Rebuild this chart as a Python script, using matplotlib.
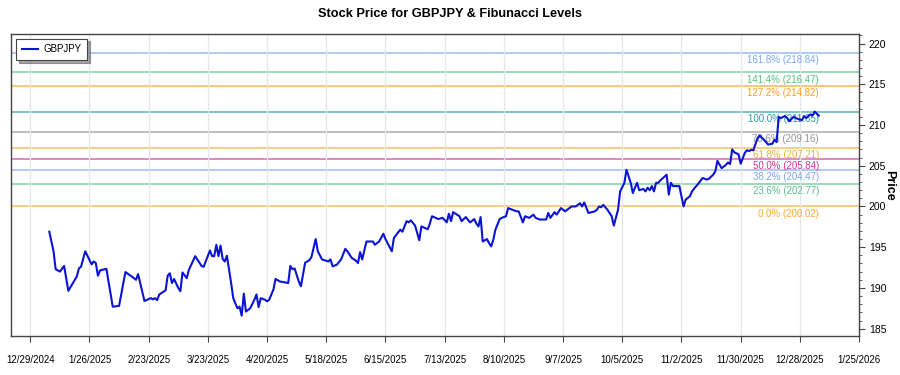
import pandas as pd
import matplotlib.pyplot as plt
import matplotlib.ticker as mticker
import matplotlib.dates as mdates

plt.rcParams['font.family'] = ['Liberation Sans', 'DejaVu Sans']

# price data
dates = [
    '2025-01-07', '2025-01-09', '2025-01-10', '2025-01-12', '2025-01-14', '2025-01-16',
    '2025-01-20', '2025-01-21', '2025-01-22', '2025-01-24', '2025-01-27', '2025-01-28',
    '2025-01-29', '2025-01-30', '2025-01-31', '2025-02-03', '2025-02-05', '2025-02-06',
    '2025-02-09', '2025-02-12', '2025-02-15', '2025-02-17', '2025-02-18', '2025-02-21',
    '2025-02-24', '2025-02-25', '2025-02-26', '2025-02-27', '2025-02-28', '2025-03-03',
    '2025-03-04', '2025-03-05', '2025-03-06', '2025-03-07', '2025-03-09', '2025-03-10',
    '2025-03-11', '2025-03-13', '2025-03-14', '2025-03-17', '2025-03-20', '2025-03-21',
    '2025-03-24', '2025-03-25', '2025-03-26', '2025-03-27', '2025-03-28', '2025-03-29',
    '2025-03-30', '2025-03-31', '2025-04-01', '2025-04-03', '2025-04-04', '2025-04-05',
    '2025-04-06', '2025-04-07', '2025-04-08', '2025-04-09', '2025-04-10', '2025-04-12',
    '2025-04-14', '2025-04-15', '2025-04-16', '2025-04-17', '2025-04-19', '2025-04-20',
    '2025-04-21', '2025-04-23', '2025-04-24', '2025-04-26', '2025-04-30', '2025-05-01',
    '2025-05-02', '2025-05-03', '2025-05-05', '2025-05-06', '2025-05-08', '2025-05-10',
    '2025-05-11', '2025-05-13', '2025-05-14', '2025-05-16', '2025-05-19', '2025-05-20',
    '2025-05-21', '2025-05-23', '2025-05-25', '2025-05-27', '2025-05-28', '2025-05-30',
    '2025-06-01', '2025-06-02', '2025-06-03', '2025-06-04', '2025-06-06', '2025-06-09',
    '2025-06-10', '2025-06-12', '2025-06-14', '2025-06-15', '2025-06-18', '2025-06-19',
    '2025-06-22', '2025-06-23', '2025-06-25', '2025-06-26', '2025-06-27', '2025-06-29',
    '2025-07-01', '2025-07-02', '2025-07-05', '2025-07-06', '2025-07-07', '2025-07-10',
    '2025-07-12', '2025-07-14', '2025-07-15', '2025-07-16', '2025-07-17', '2025-07-20',
    '2025-07-21', '2025-07-23', '2025-07-25', '2025-07-27', '2025-07-28', '2025-07-29',
    '2025-07-30', '2025-07-31', '2025-08-02', '2025-08-03', '2025-08-04', '2025-08-05',
    '2025-08-06', '2025-08-08', '2025-08-09', '2025-08-11', '2025-08-12', '2025-08-14',
    '2025-08-16', '2025-08-17', '2025-08-19', '2025-08-20', '2025-08-22', '2025-08-24',
    '2025-08-25', '2025-08-27', '2025-08-30', '2025-08-31', '2025-09-01', '2025-09-03',
    '2025-09-04', '2025-09-06', '2025-09-08', '2025-09-11', '2025-09-13', '2025-09-15',
    '2025-09-16', '2025-09-17', '2025-09-19', '2025-09-22', '2025-09-23', '2025-09-24',
    '2025-09-25', '2025-09-26', '2025-09-28', '2025-09-30', '2025-10-01', '2025-10-03',
    '2025-10-04', '2025-10-06', '2025-10-07', '2025-10-09', '2025-10-10', '2025-10-11',
    '2025-10-12', '2025-10-13', '2025-10-15', '2025-10-16', '2025-10-17', '2025-10-18',
    '2025-10-19', '2025-10-20', '2025-10-21', '2025-10-22', '2025-10-23', '2025-10-26',
    '2025-10-27', '2025-10-28', '2025-10-29', '2025-10-30', '2025-11-01', '2025-11-03',
    '2025-11-04', '2025-11-06', '2025-11-07', '2025-11-08', '2025-11-10', '2025-11-12',
    '2025-11-14', '2025-11-15', '2025-11-17', '2025-11-18', '2025-11-19', '2025-11-21',
    '2025-11-23', '2025-11-24', '2025-11-25', '2025-11-26', '2025-11-27', '2025-11-29',
    '2025-11-30', '2025-12-02', '2025-12-03', '2025-12-04', '2025-12-05', '2025-12-06',
    '2025-12-08', '2025-12-09', '2025-12-11', '2025-12-13', '2025-12-15', '2025-12-16',
    '2025-12-17', '2025-12-18', '2025-12-19', '2025-12-21', '2025-12-22', '2025-12-23',
    '2025-12-25', '2025-12-27', '2025-12-29', '2025-12-30', '2025-12-31', '2026-01-02',
    '2026-01-03', '2026-01-04', '2026-01-06',
]
prices = [
    196.9, 194.5, 192.3, 192.0, 192.7, 189.65,
    191.4, 192.4, 192.6, 194.5, 192.9, 193.25,
    193.05, 191.5, 192.15, 192.35, 189.2, 187.7,
    187.8, 191.95, 191.4, 191.0, 191.7, 188.4,
    188.75, 188.6, 188.75, 188.5, 189.2, 189.7,
    191.5, 191.8, 190.6, 191.1, 190.0, 189.6,
    191.9, 191.2, 192.2, 193.9, 192.7, 192.6,
    194.6, 193.9, 193.9, 195.3, 193.9, 195.2,
    193.55, 193.25, 193.95, 190.6, 188.75, 188.1,
    187.5, 187.7, 186.6, 189.3, 187.1, 187.5,
    188.55, 189.2, 187.65, 188.75, 188.55, 188.35,
    188.55, 189.8, 191.1, 190.8, 190.6, 192.7,
    192.3, 192.4, 190.8, 190.2, 193.1, 193.4,
    193.8, 196.0, 194.5, 193.5, 193.25, 193.5,
    192.65, 192.85, 193.5, 194.8, 194.5, 193.7,
    193.35, 193.05, 194.4, 193.5, 195.7, 195.7,
    195.3, 195.7, 196.65, 196.0, 194.5, 196.15,
    197.15, 196.9, 198.2, 198.05, 198.3, 197.65,
    195.85, 197.55, 197.2, 197.9, 198.8, 198.45,
    198.6, 198.05, 199.1, 198.2, 199.3, 198.8,
    198.2, 198.7, 198.05, 198.45, 197.9, 197.55,
    198.7, 195.7, 196.0, 195.5, 195.1, 195.9,
    197.15, 198.45, 198.6, 198.8, 199.8, 199.6,
    199.4, 199.4, 198.05, 198.8, 198.6, 199.0,
    198.6, 198.4, 198.4, 199.2, 198.6, 199.3,
    199.0, 199.8, 199.4, 200.0, 200.0, 200.4,
    200.0, 200.5, 199.2, 199.4, 199.6, 200.0,
    199.9, 200.2, 199.6, 198.8, 197.65, 199.6,
    201.85, 202.9, 204.5, 202.9, 201.65, 202.3,
    202.9, 202.0, 202.15, 201.85, 202.3, 202.0,
    202.5, 201.85, 202.9, 202.9, 203.2, 203.9,
    201.45, 202.9, 202.5, 202.5, 202.5, 200.0,
    200.85, 201.25, 201.85, 202.2, 202.8, 203.5,
    203.3, 203.4, 203.9, 204.3, 205.6, 204.7,
    205.1, 205.4, 205.2, 207.0, 206.65, 206.4,
    205.25, 206.6, 206.9, 206.8, 206.95, 206.9,
    208.4, 208.7, 208.2, 207.6, 207.7, 208.2,
    207.9, 211.0, 210.85, 211.1, 210.85, 210.45,
    211.0, 210.75, 210.6, 211.1, 210.85, 211.3,
    211.15, 211.65, 211.15,
]

# fibonacci levels as labelled on the chart
fib_ratios = ['0.0%', '23.6%', '38.2%', '50.0%', '61.8%', '78.6%', '100.0%', '127.2%', '141.4%', '161.8%']
fib_values = [200.02, 202.77, 204.47, 205.84, 207.21, 209.16, 211.65, 214.82, 216.47, 218.84]
fib_colors = ['#f39c12', '#3cb371', '#6495ed', '#c71585', '#e3a21a', '#808080',
              '#008b8b', '#ff8c00', '#3cb371', '#6495ed']

df = pd.DataFrame({'date': pd.to_datetime(dates), 'close': prices})

fig = plt.figure(figsize=(9, 3.75), dpi=100)
ax = fig.add_axes([0.0125, 0.104, 0.942, 0.806])

# fibonacci lines and labels
label_x = df['date'].iloc[-1]
for r, v, c in zip(fib_ratios, fib_values, fib_colors):
    ax.axhline(v, color=c, lw=1.1, alpha=0.65, zorder=1)
    ax.text(label_x, v - 0.3, f'{r} ({v:.2f})', color=c, alpha=0.85, fontsize=7,
            ha='right', va='top', zorder=2)

ax.plot(df['date'], df['close'], color='#0a14d2', lw=1.5, label='GBPJPY', zorder=3)

# axes
ax.set_xlim(pd.Timestamp('2024-12-20'), pd.Timestamp('2026-01-25'))
ax.set_ylim(184.1, 221.2)
ticks = pd.date_range('2024-12-29', '2026-01-25', freq='28D')
ax.xaxis.set_major_locator(mticker.FixedLocator(mdates.date2num(ticks)))
ax.xaxis.set_major_formatter(mticker.FuncFormatter(
    lambda v, p: (lambda d: f'{d.month}/{d.day}/{d.year}')(mdates.num2date(v))))
ax.xaxis.grid(True, color='#e6e6e6', lw=0.9)
ax.tick_params(axis='x', labelsize=7, pad=10, length=4, color='#444444')

ax.yaxis.tick_right()
ax.yaxis.set_major_locator(mticker.MultipleLocator(5))
ax.yaxis.set_minor_locator(mticker.MultipleLocator(1))
ax.tick_params(axis='y', labelsize=7.5, pad=3, length=4, color='#444444')
ax.tick_params(axis='y', which='minor', length=2, color='#444444')
ax.set_ylabel('Price', fontsize=9, fontweight='bold', rotation=270, va='center', ha='center')
ax.yaxis.set_label_coords(1.035, 0.5)

for s in ax.spines.values():
    s.set_color('#444444')
    s.set_linewidth(1.0)

fig.suptitle('Stock Price for GBPJPY & Fibunacci Levels', fontsize=9.2, fontweight='bold',
             x=0.5, y=0.963, va='center')

leg = ax.legend(loc='upper left', fontsize=7, fancybox=False, shadow=True,
                edgecolor='#444444', borderpad=0.6, handlelength=1.6, handletextpad=0.6)
leg.get_frame().set_linewidth(0.8)

fig.savefig('out.png', dpi=100)
